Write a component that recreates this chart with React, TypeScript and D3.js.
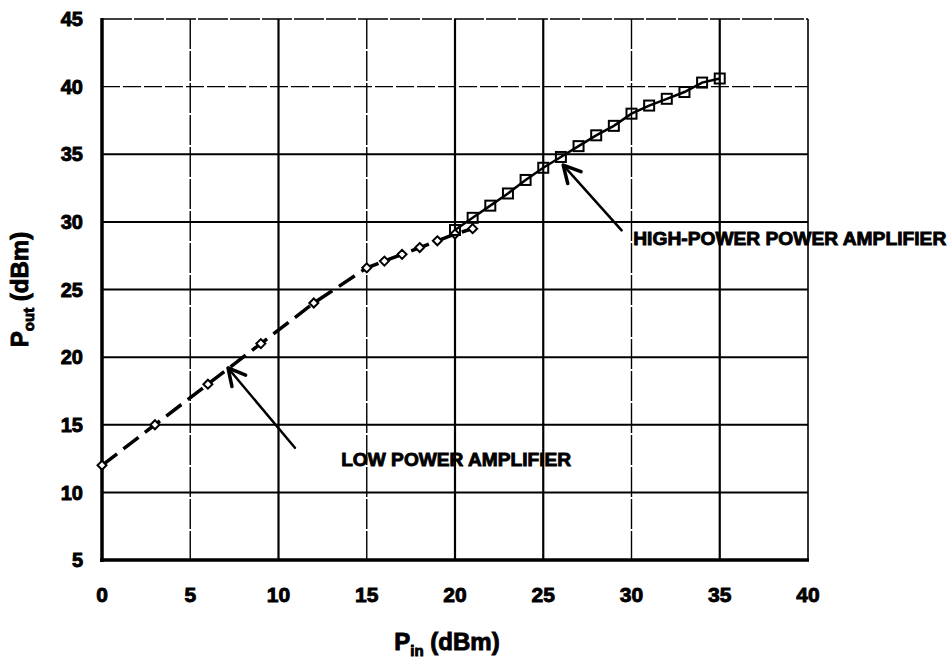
import React from 'react';
import * as d3 from 'd3';

// tick values
const xTicks = [0, 5, 10, 15, 20, 25, 30, 35, 40];
const yTicks = [5, 10, 15, 20, 25, 30, 35, 40, 45];

// low power amplifier (diamonds, dashed)
const lowPin = [0, 3, 6, 9, 12, 15, 16, 17, 18, 19, 20, 21];
const lowPout = [12, 15, 18, 21, 24, 26.6, 27.1, 27.6, 28.1, 28.6, 29.1, 29.5];

// high-power power amplifier (squares, solid)
const highPin = [20, 21, 22, 23, 24, 25, 26, 27, 28, 29, 30, 31, 32, 33, 34, 35];
const highPout = [29.4, 30.3, 31.2, 32.1, 33.1, 34.0, 34.8, 35.6, 36.4, 37.1, 38.0, 38.6, 39.1, 39.6, 40.3, 40.6];

// annotations (data coords): label position, arrow tail, arrow tip
const lowLabel = 'LOW POWER AMPLIFIER';
const lowAnno = { lx: 13.55, ly: 11.95, tail: [10.93, 13.3], tip: [7.14, 19.2] };
const highLabel = 'HIGH-POWER POWER AMPLIFIER';
const highAnno = { lx: 30.1, ly: 28.3, tail: [29.44, 29.37], tip: [26.13, 34.2] };

const W = 952;
const H = 663;
const left = 102, right = 808, top = 19, bottom = 560;
const font = 'Arial, "Liberation Sans", sans-serif';

// grid lines drawn lighter / dashed in the scan
const thinX = [5, 15, 30];
const thinY = [40];

const App = () => {
  const x = d3.scaleLinear().domain([0, 40]).range([left, right]);
  const y = d3.scaleLinear().domain([5, 45]).range([bottom, top]);

  const lowPts = lowPin.map((v, i) => [x(v), y(lowPout[i])] as [number, number]);
  const highPts = highPin.map((v, i) => [x(v), y(highPout[i])] as [number, number]);
  const line = d3.line();

  const arrow = (a: { tail: number[]; tip: number[] }, key: string) => {
    const tx = x(a.tail[0]), ty = y(a.tail[1]);
    const px = x(a.tip[0]), py = y(a.tip[1]);
    const ang = Math.atan2(ty - py, tx - px);
    const len = 19;
    const s = (28 * Math.PI) / 180;
    const a1 = [px + len * Math.cos(ang + s), py + len * Math.sin(ang + s)];
    const a2 = [px + len * Math.cos(ang - s), py + len * Math.sin(ang - s)];
    return (
      <g key={key} stroke="#000" fill="none" strokeLinecap="round" strokeLinejoin="round">
        <line x1={tx} y1={ty} x2={px} y2={py} strokeWidth={2.5} />
        <polyline points={`${a1[0]},${a1[1]} ${px},${py} ${a2[0]},${a2[1]}`} strokeWidth={3.5} />
      </g>
    );
  };

  const txt = { fontFamily: font, fontWeight: 'bold' as const, fill: '#000', stroke: '#000', strokeWidth: 0.9 };

  return (
    <svg width={W} height={H} style={{ position: 'absolute', left: 0, top: 0, background: '#fff' }}>
      <rect width={W} height={H} fill="#fff" />
      {/* grid */}
      {xTicks.slice(1, -1).map((t) => (
        <line key={'gx' + t} x1={x(t)} x2={x(t)} y1={top} y2={bottom} stroke="#000"
          strokeWidth={thinX.includes(t) ? 1.4 : 2.2}
          strokeDasharray={thinX.includes(t) ? '30,2' : undefined} />
      ))}
      {yTicks.slice(1, -1).map((t) => (
        <line key={'gy' + t} x1={left} x2={right} y1={y(t)} y2={y(t)} stroke="#000"
          strokeWidth={thinY.includes(t) ? 1.4 : 2}
          strokeDasharray={thinY.includes(t) ? '18,3' : undefined} />
      ))}
      {/* frame */}
      <line x1={left} x2={right} y1={top} y2={top} stroke="#000" strokeWidth={1.6} strokeDasharray="30,2" />
      <line x1={right} x2={right} y1={top} y2={bottom} stroke="#000" strokeWidth={1.6} />
      <line x1={left} x2={left} y1={top - 1} y2={bottom + 2} stroke="#000" strokeWidth={3.5} />
      <line x1={left - 2} x2={right + 1} y1={bottom} y2={bottom} stroke="#000" strokeWidth={3.5} />

      {/* tick labels */}
      {yTicks.map((t) => (
        <text key={'yt' + t} x={83} y={y(t)} dy="0.36em" textAnchor="end" fontSize={20} {...txt}>{t}</text>
      ))}
      {xTicks.map((t) => (
        <text key={'xt' + t} x={x(t)} y={602} textAnchor="middle" fontSize={21} {...txt}>{t}</text>
      ))}

      {/* axis titles */}
      <text x={447} y={650} textAnchor="middle" fontSize={24} {...txt}>
        P<tspan fontSize={15} dy={6}>in</tspan><tspan dy={-6}> (dBm)</tspan>
      </text>
      <text transform={`translate(28,${(top + bottom) / 2}) rotate(-90)`} textAnchor="middle" fontSize={24} {...txt}>
        P<tspan fontSize={15} dy={6}>out</tspan><tspan dy={-6}> (dBm)</tspan>
      </text>

      {/* low power series */}
      <path d={line(lowPts) || ''} fill="none" stroke="#000" strokeWidth={3.5} strokeDasharray="19,8" />
      {lowPts.map(([px, py], i) => (
        <path key={'d' + i} d={`M${px},${py - 4.5}L${px + 4.5},${py}L${px},${py + 4.5}L${px - 4.5},${py}Z`}
          fill="#fff" stroke="#000" strokeWidth={2} />
      ))}

      {/* high power series */}
      <path d={line(highPts) || ''} fill="none" stroke="#000" strokeWidth={2.5} />
      {highPts.map(([px, py], i) => (
        <rect key={'s' + i} x={px - 5} y={py - 5} width={10} height={10} fill="none" stroke="#000" strokeWidth={2} />
      ))}

      {/* annotations */}
      {arrow(lowAnno, 'la')}
      {arrow(highAnno, 'ha')}
      <text x={x(lowAnno.lx)} y={y(lowAnno.ly)} fontSize={19} textLength={230} lengthAdjust="spacingAndGlyphs" {...txt}>{lowLabel}</text>
      <text x={x(highAnno.lx)} y={y(highAnno.ly)} fontSize={19} textLength={313} lengthAdjust="spacingAndGlyphs" {...txt}>{highLabel}</text>
    </svg>
  );
};

export default App;
